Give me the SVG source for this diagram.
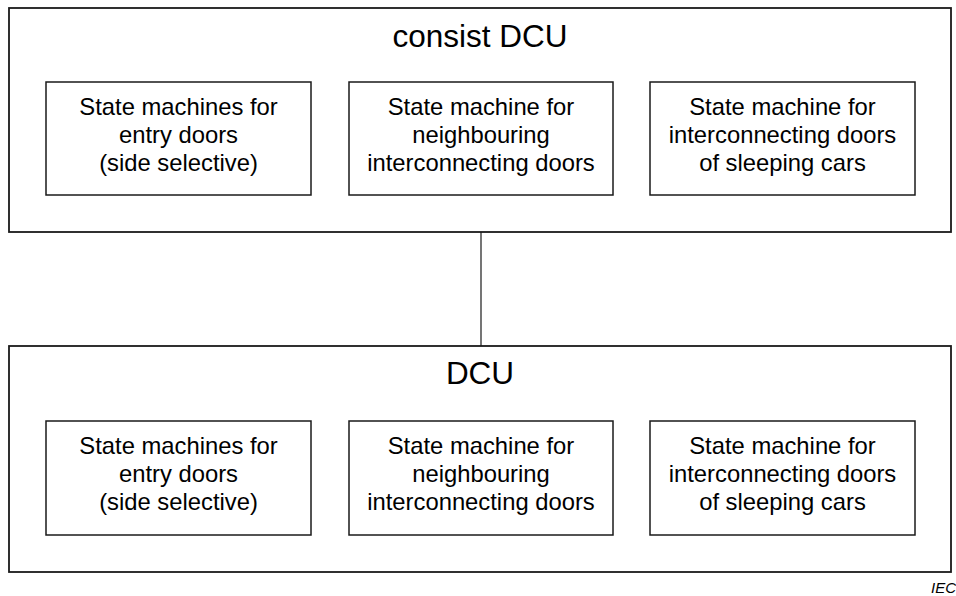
<svg xmlns="http://www.w3.org/2000/svg" width="956" height="596" viewBox="0 0 956 596">
<style>
.outer{fill:#fff;stroke:#1a1a1a;stroke-width:1.8}
.inner{fill:#fff;stroke:#1a1a1a;stroke-width:1.5}
.t{font-family:"Liberation Sans",Arial,sans-serif;fill:#000;text-anchor:middle}
.title{font-size:31.5px}
.lbl{font-size:23.8px}
.conn{stroke:#1a1a1a;stroke-width:1.2;fill:none}
</style>
<rect width="956" height="596" fill="#fff"/>
<g id="connectors">
<line class="conn" x1="481" y1="232" x2="481" y2="346"/>
</g>
<g id="consist-dcu">
<rect class="outer" x="9" y="8" width="942" height="224"/>
<text class="t title" x="480" y="47">consist DCU</text>
</g>
<g id="c-entry">
<rect class="inner" x="46" y="82" width="265" height="113"/>
<text class="t lbl" x="178.5" y="115">State machines for</text>
<text class="t lbl" x="178.5" y="143">entry doors</text>
<text class="t lbl" x="178.5" y="171">(side selective)</text>
</g>
<g id="c-neighbour">
<rect class="inner" x="349" y="82" width="264" height="113"/>
<text class="t lbl" x="481" y="115">State machine for</text>
<text class="t lbl" x="481" y="143">neighbouring</text>
<text class="t lbl" x="481" y="171">interconnecting doors</text>
</g>
<g id="c-sleeping">
<rect class="inner" x="650" y="82" width="265" height="113"/>
<text class="t lbl" x="782.5" y="115">State machine for</text>
<text class="t lbl" x="782.5" y="143">interconnecting doors</text>
<text class="t lbl" x="782.5" y="171">of sleeping cars</text>
</g>
<g id="dcu">
<rect class="outer" x="9" y="346" width="942" height="226"/>
<text class="t title" x="480" y="384">DCU</text>
</g>
<g id="d-entry">
<rect class="inner" x="46" y="421" width="265" height="114"/>
<text class="t lbl" x="178.5" y="454">State machines for</text>
<text class="t lbl" x="178.5" y="482">entry doors</text>
<text class="t lbl" x="178.5" y="510">(side selective)</text>
</g>
<g id="d-neighbour">
<rect class="inner" x="349" y="421" width="264" height="114"/>
<text class="t lbl" x="481" y="454">State machine for</text>
<text class="t lbl" x="481" y="482">neighbouring</text>
<text class="t lbl" x="481" y="510">interconnecting doors</text>
</g>
<g id="d-sleeping">
<rect class="inner" x="650" y="421" width="265" height="114"/>
<text class="t lbl" x="782.5" y="454">State machine for</text>
<text class="t lbl" x="782.5" y="482">interconnecting doors</text>
<text class="t lbl" x="782.5" y="510">of sleeping cars</text>
</g>
<text x="931" y="593" style="font-family:'Liberation Sans',Arial,sans-serif;font-size:15px;font-style:italic;fill:#000">IEC</text>
</svg>
